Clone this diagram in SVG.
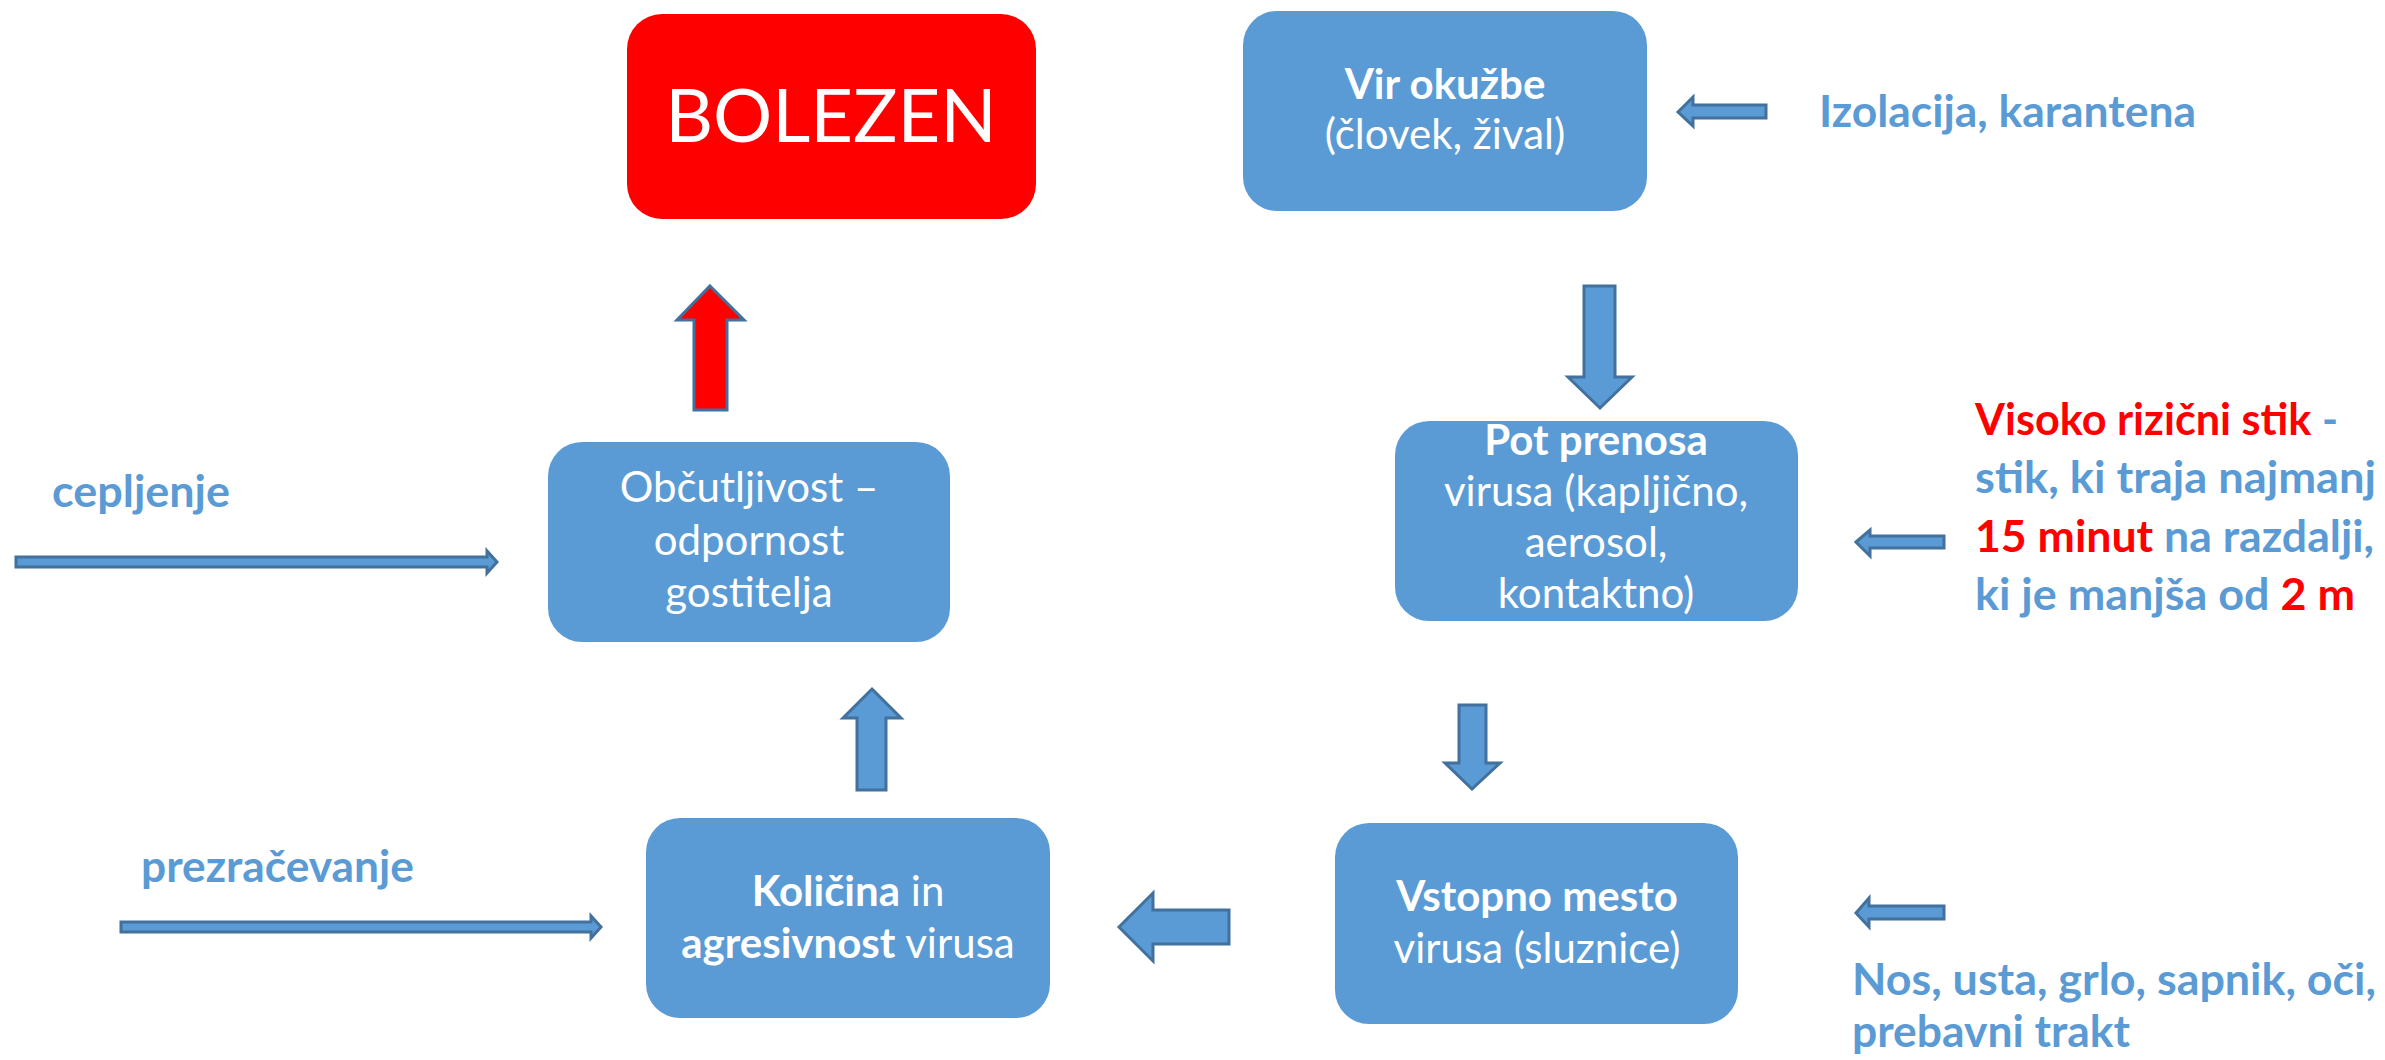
<svg xmlns="http://www.w3.org/2000/svg" width="2385" height="1060" viewBox="0 0 2385 1060">
<style>
.box{fill:#5B9BD5;}
.red{fill:#FF0000;}
.arr{fill:#5B9BD5;stroke:#41719C;stroke-width:3;stroke-linejoin:miter;}
.rarr{fill:#FF0000;stroke:#41719C;stroke-width:3;}
.t{font-family:Lato,"Open Sans","Liberation Sans",sans-serif;font-size:42px;fill:#FFFFFF;text-anchor:middle;}
.b{font-weight:bold;}
.s{font-family:Lato,"Open Sans","Liberation Sans",sans-serif;font-size:44px;font-weight:bold;fill:#5B9BD5;}
.rt{fill:#FF0000;}
</style>
<rect width="2385" height="1060" fill="#FFFFFF"/>

<g id="connectors">
<polygon class="arr" points="1584,286 1615,286 1615,377 1632,377 1600,408 1568,377 1584,377"/>
<polygon class="arr" points="1459,705 1486,705 1486,763 1500,763 1472,789 1445,763 1459,763"/>
<polygon class="arr" points="1119,927 1153,893 1153,910 1229,910 1229,944 1153,944 1153,961"/>
<polygon class="arr" points="872,689 901,718 886,718 886,790 857,790 857,718 843,718"/>
<polygon class="rarr" points="710,286 744,320 727,320 727,410 694,410 694,320 677,320"/>
<polygon class="arr" points="1678,112 1693,97 1693,105 1766,105 1766,118 1693,118 1693,126"/>
<polygon class="arr" points="1856,542 1870,530 1870,536 1944,536 1944,548 1870,548 1870,556"/>
<polygon class="arr" points="1856,913 1869,898 1869,906 1944,906 1944,919 1869,919 1869,927"/>
<polygon class="arr" points="16,557 487,557 487,551 497,562 487,573 487,567 16,567"/>
<polygon class="arr" points="121,922 591,922 591,916 601,927 591,938 591,932 121,932"/>
</g>

<g id="bolezen">
<rect class="red" x="627" y="14" width="409" height="205" rx="35" ry="35"/>
<text class="t" x="831" y="142" style="font-size:74px">BOLEZEN</text>
</g>

<g id="vir">
<rect class="box" x="1243" y="11" width="404" height="200" rx="34" ry="34"/>
<text class="t b" x="1445" y="99">Vir okužbe</text>
<text class="t" x="1445" y="149">(človek, žival)</text>
</g>

<g id="izolacija">
<text class="s" x="1819" y="127" textLength="377" lengthAdjust="spacingAndGlyphs">Izolacija, karantena</text>
</g>

<g id="pot">
<rect class="box" x="1395" y="421" width="403" height="200" rx="34" ry="34"/>
<text class="t b" x="1596" y="455">Pot prenosa</text>
<text class="t" x="1596" y="506">virusa (kapljično,</text>
<text class="t" x="1596" y="557">aerosol,</text>
<text class="t" x="1596" y="608">kontaktno)</text>
</g>

<g id="visoko">
<text class="s" x="1975" y="435" textLength="363" lengthAdjust="spacingAndGlyphs"><tspan class="rt">Visoko rizični stik</tspan> -</text>
<text class="s" x="1975" y="493" textLength="401" lengthAdjust="spacingAndGlyphs">stik, ki traja najmanj</text>
<text class="s" x="1975" y="552" textLength="399" lengthAdjust="spacingAndGlyphs"><tspan class="rt">15 minut</tspan> na razdalji,</text>
<text class="s" x="1975" y="610" textLength="380" lengthAdjust="spacingAndGlyphs">ki je manjša od <tspan class="rt">2 m</tspan></text>
</g>

<g id="obcutljivost">
<rect class="box" x="548" y="442" width="402" height="200" rx="34" ry="34"/>
<text class="t" x="749" y="502">Občutljivost –</text>
<text class="t" x="749" y="555">odpornost</text>
<text class="t" x="749" y="607">gostitelja</text>
</g>

<g id="cepljenje">
<text class="s" x="52" y="507" textLength="178" lengthAdjust="spacingAndGlyphs">cepljenje</text>
</g>

<g id="kolicina">
<rect class="box" x="646" y="818" width="404" height="200" rx="34" ry="34"/>
<text class="t" x="848" y="906"><tspan class="b">Količina</tspan> in</text>
<text class="t" x="848" y="958"><tspan class="b">agresivnost</tspan> virusa</text>
</g>

<g id="prezracevanje">
<text class="s" x="141" y="882" textLength="273" lengthAdjust="spacingAndGlyphs">prezračevanje</text>
</g>

<g id="vstopno">
<rect class="box" x="1335" y="823" width="403" height="201" rx="34" ry="34"/>
<text class="t b" x="1537" y="911">Vstopno mesto</text>
<text class="t" x="1537" y="963">virusa (sluznice)</text>
</g>

<g id="nos">
<text class="s" x="1852" y="995" textLength="524" lengthAdjust="spacingAndGlyphs">Nos, usta, grlo, sapnik, oči,</text>
<text class="s" x="1852" y="1047" textLength="278" lengthAdjust="spacingAndGlyphs">prebavni trakt</text>
</g>
</svg>
